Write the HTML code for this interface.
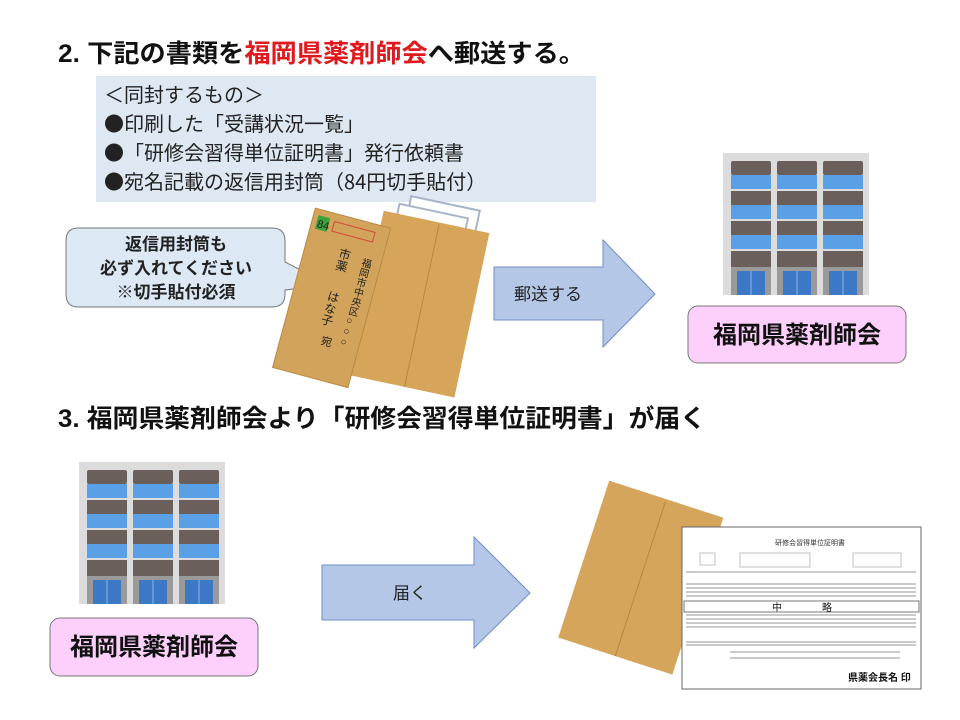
<!DOCTYPE html>
<html><head><meta charset="utf-8"><style>
html,body{margin:0;padding:0;background:#fff;}
svg{display:block;}
text{font-family:"Liberation Sans","Noto Sans CJK JP",sans-serif;}
.cjk{font-family:"Noto Sans CJK JP",sans-serif;}
</style></head><body>
<svg width="960" height="720" viewBox="0 0 960 720" xmlns="http://www.w3.org/2000/svg">
<defs>
<g id="bld">
  <rect x="0" y="0" width="146" height="142" fill="#dcdcdc"/>
  <g id="col">
    <rect x="8" y="8" width="40" height="14" rx="2" fill="#6b5f5c"/>
    <rect x="8" y="22" width="40" height="14" fill="#5aa0e6"/>
    <rect x="8" y="38" width="40" height="14" fill="#6b5f5c"/>
    <rect x="8" y="52" width="40" height="14" fill="#5aa0e6"/>
    <rect x="8" y="68" width="40" height="14" fill="#6b5f5c"/>
    <rect x="8" y="82" width="40" height="14" fill="#5aa0e6"/>
    <rect x="8" y="98" width="40" height="16" fill="#6b5f5c"/>
    <rect x="8" y="114" width="40" height="28" fill="#9a9a9a"/>
    <rect x="14" y="118" width="28" height="24" fill="#3d78c6"/>
    <line x1="28" y1="118" x2="28" y2="142" stroke="#8fb4e4" stroke-width="1"/>
  </g>
  <use href="#col" x="46"/>
  <use href="#col" x="92"/>
</g>
</defs>

<text x="58" y="62" font-size="25" font-weight="bold" fill="#111" textLength="527" lengthAdjust="spacingAndGlyphs">2. 下記の書類を<tspan fill="#e0191e">福岡県薬剤師会</tspan>へ郵送する。</text>

<rect x="96" y="76" width="500" height="126" fill="#dee8f3"/>
<g font-size="20" fill="#222" class="cjk">
<text x="104" y="102" class="cjk">＜同封するもの＞</text>
<text x="104" y="131" class="cjk">●印刷した「受講状況一覧」</text>
<text x="104" y="160" class="cjk">●「研修会習得単位証明書」発行依頼書</text>
<text x="104" y="189" class="cjk">●宛名記載の返信用封筒（84円切手貼付）</text>
</g>

<path d="M78 228 H272 Q285 228 285 241 V262 L330 285 L285 290 V294 Q285 307 272 307 H78 Q66 307 66 294 V241 Q66 228 78 228 Z" fill="#dce8f4" stroke="#777" stroke-width="1"/>
<g font-size="17" font-weight="bold" fill="#222" text-anchor="middle">
<text x="176" y="250">返信用封筒も</text>
<text x="176" y="274">必ず入れてください</text>
<text x="176" y="298">※切手貼付必須</text>
</g>

<g transform="rotate(12 420 290)">
  <rect x="392" y="200" width="70" height="60" fill="#fff" stroke="#a8b4c8" stroke-width="2"/>
  <rect x="382" y="210" width="70" height="60" fill="#fff" stroke="#a8b4c8" stroke-width="2"/>
  <rect x="368" y="220" width="108" height="168" fill="#d7a55a"/>
  <line x1="425" y1="222" x2="425" y2="388" stroke="#b8863f" stroke-width="1"/>
</g>
<g transform="rotate(15 330 300)">
  <rect x="292" y="215" width="78" height="165" fill="#d2a35a" stroke="#b98a44" stroke-width="1"/>
  <rect x="297" y="221" width="12" height="14" fill="#3aa33a"/>
  <text x="298" y="233" font-size="11" fill="#222">84</text>
  <rect x="314" y="223" width="42" height="10" fill="none" stroke="#d04a3a" stroke-width="1"/>
  <text x="354" y="250" font-size="10" fill="#222" writing-mode="tb">福岡市中央区○○○</text>
  <text x="332" y="246" font-size="12" fill="#222" writing-mode="tb">市薬</text>
  <text x="332" y="290" font-size="12" fill="#222" writing-mode="tb">はな子</text>
  <text x="332" y="345" font-size="11" fill="#222">宛</text>
</g>

<path d="M494 267 H603 V240 L655 294 L603 347 V320 H494 Z" fill="#b4c7e7" stroke="#6f8fc7" stroke-width="1"/>
<text x="548" y="300" font-size="17" fill="#222" text-anchor="middle">郵送する</text>

<use href="#bld" x="723" y="153"/>
<rect x="688" y="306" width="218" height="57" rx="10" fill="#fdd0fb" stroke="#777" stroke-width="1"/>
<text x="797" y="343" font-size="24" font-weight="bold" fill="#111" text-anchor="middle">福岡県薬剤師会</text>

<text x="58" y="427" font-size="25" font-weight="bold" fill="#111" textLength="648" lengthAdjust="spacingAndGlyphs">3. 福岡県薬剤師会より「研修会習得単位証明書」が届く</text>

<use href="#bld" x="79" y="462"/>
<rect x="50" y="618" width="208" height="58" rx="10" fill="#fdd0fb" stroke="#777" stroke-width="1"/>
<text x="154" y="655" font-size="24" font-weight="bold" fill="#111" text-anchor="middle">福岡県薬剤師会</text>

<path d="M322 565 H474 V537 L530 593 L474 648 V620 H322 Z" fill="#b4c7e7" stroke="#6f8fc7" stroke-width="1"/>
<text x="410" y="599" font-size="17" fill="#222" text-anchor="middle">届く</text>

<g transform="rotate(18 640 580)">
  <rect x="580" y="495" width="120" height="165" fill="#d6a55c"/>
  <line x1="640" y1="497" x2="640" y2="660" stroke="#b8863f" stroke-width="1"/>
</g>

<rect x="682" y="527" width="239" height="162" fill="#fff" stroke="#666" stroke-width="1"/>
<text x="775" y="545" font-size="7" fill="#333">研修会習得単位証明書</text>
<rect x="700" y="553" width="15" height="12" fill="none" stroke="#999" stroke-width="0.6"/>
<rect x="740" y="553" width="70" height="14" fill="none" stroke="#999" stroke-width="0.6"/>
<rect x="853" y="553" width="48" height="14" fill="none" stroke="#999" stroke-width="0.6"/>
<g stroke="#aaa" stroke-width="1.2">
<line x1="686" y1="572" x2="916" y2="572"/>
<line x1="686" y1="584" x2="916" y2="584"/>
<line x1="686" y1="588" x2="916" y2="588"/>
<line x1="686" y1="592" x2="916" y2="592"/>
<line x1="686" y1="596" x2="916" y2="596"/>
<line x1="686" y1="615" x2="916" y2="615"/>
<line x1="686" y1="619" x2="916" y2="619"/>
<line x1="686" y1="623" x2="916" y2="623"/>
<line x1="686" y1="627" x2="916" y2="627"/>
<line x1="686" y1="642" x2="916" y2="642"/>
<line x1="686" y1="645" x2="916" y2="645"/>
<line x1="730" y1="652" x2="900" y2="652"/>
<line x1="730" y1="658" x2="900" y2="658"/>
</g>
<rect x="684" y="601" width="235" height="11" fill="#fff" stroke="#777" stroke-width="1"/>
<text x="772" y="611" font-size="10" fill="#111">中</text>
<text x="822" y="611" font-size="10" fill="#111">略</text>
<text x="848" y="681" font-size="10" font-weight="bold" fill="#111">県薬会長名 印</text>
</svg>
</body></html>
